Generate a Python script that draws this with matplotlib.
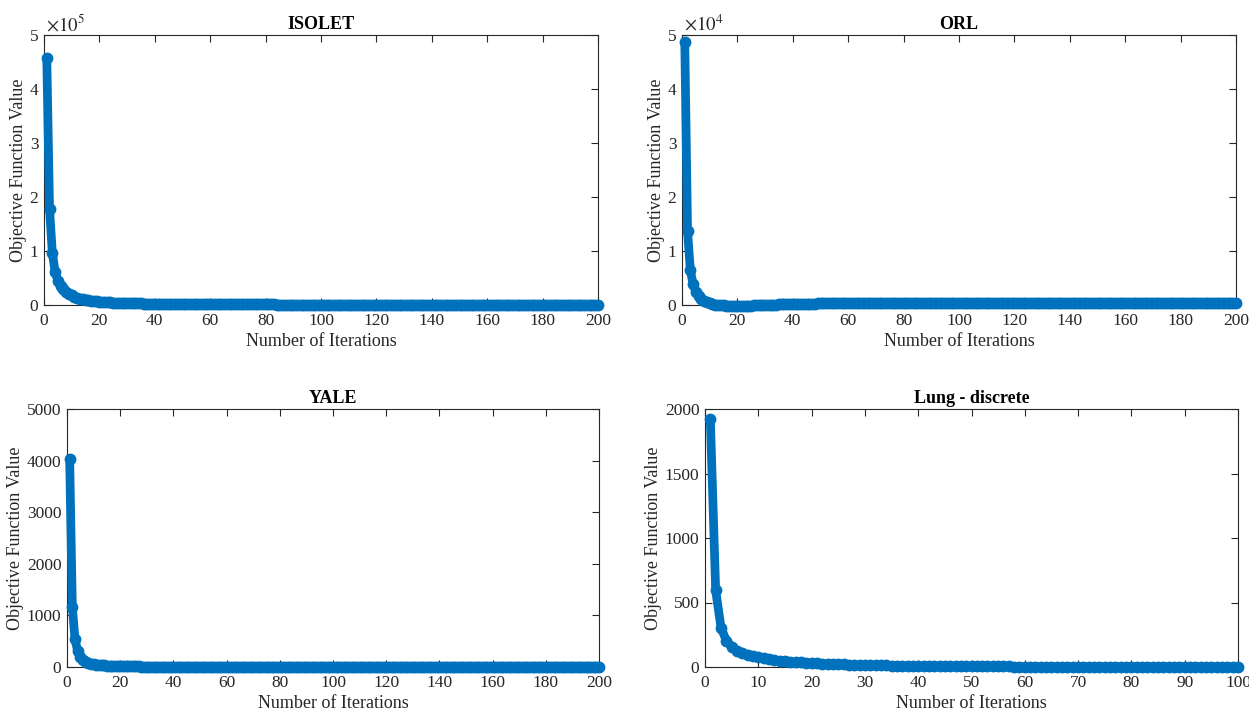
import matplotlib
matplotlib.use("Agg")
import matplotlib.pyplot as plt
import numpy as np

plt.rcParams['font.family'] = ['Liberation Serif', 'DejaVu Serif']
plt.rcParams['mathtext.fontset'] = 'stix'

# ---------------- data ----------------
isolet_vals = [
    458000, 178000, 97000, 62000, 45000, 36000, 29500, 24500, 20800, 17800,
    15400, 13500, 12000, 10700, 9700, 8800, 8050, 7400, 6850, 6350,
    5900, 5500, 5150, 4850, 4550, 4300, 4080, 3870, 3680, 3500,
    3340, 3190, 3050, 2920, 2800, 2690, 2590, 2490, 2400, 2320,
    2240, 2170, 2100, 2030, 1970, 1910, 1860, 1810, 1760, 1710,
    1670, 1630, 1590, 1550, 1510, 1480, 1450, 1420, 1390, 1360,
    1330, 1300, 1280, 1250, 1230, 1210, 1190, 1170, 1150, 1130,
    1110, 1090, 1080, 1060, 1040, 1030, 1010, 1000, 990, 970,
    960, 950, 940, 920, 910, 900, 890, 880, 870, 860,
    850, 840, 830, 825, 815, 805, 800, 790, 780, 775,
    768, 761, 755, 749, 743, 737, 731, 725, 720, 714,
    709, 703, 698, 693, 688, 683, 678, 673, 668, 664,
    659, 655, 650, 646, 642, 638, 633, 629, 625, 621,
    618, 614, 610, 606, 603, 599, 596, 592, 589, 586,
    582, 579, 576, 573, 570, 567, 564, 561, 558, 555,
    552, 550, 547, 544, 542, 539, 537, 534, 532, 529,
    527, 525, 522, 520, 518, 516, 513, 511, 509, 507,
    505, 503, 501, 499, 497, 495, 493, 491, 490, 488,
    486, 484, 483, 481, 479, 478, 476, 474, 473, 471,
    470, 468, 467, 465, 464, 462, 461, 459, 458, 457,
]

orl_vals = [
    48700, 13700, 6500, 3800, 2500, 1700, 1150, 780, 520, 330,
    190, 90, 20, -40, -90, -130, -160, -180, -190, -190,
    -180, -165, -145, -125, -105, -85, -65, -45, -25, -5,
    15, 35, 55, 75, 95, 115, 135, 150, 165, 180,
    195, 210, 222, 234, 245, 255, 265, 273, 281, 288,
    295, 300, 305, 310, 314, 318, 321, 324, 327, 329,
    331, 333, 335, 336, 337, 338, 339, 340, 341, 342,
    343, 343, 344, 344, 345, 345, 346, 346, 346, 347,
    347, 347, 348, 348, 348, 348, 349, 349, 349, 349,
    349, 350, 350, 350, 350, 350, 350, 350, 350, 350,
    351, 351, 351, 351, 351, 351, 351, 351, 351, 351,
    351, 351, 351, 352, 352, 352, 352, 352, 352, 352,
    352, 352, 352, 352, 352, 352, 352, 352, 352, 352,
    352, 352, 352, 352, 352, 352, 352, 352, 352, 352,
    352, 352, 352, 352, 352, 352, 352, 352, 352, 352,
    352, 352, 352, 352, 352, 352, 352, 352, 352, 352,
    352, 352, 352, 352, 352, 352, 352, 352, 352, 352,
    352, 352, 352, 352, 352, 352, 352, 352, 352, 352,
    352, 352, 352, 352, 352, 352, 352, 352, 352, 352,
    352, 352, 352, 352, 352, 352, 352, 352, 352, 352,
]

yale_vals = [
    4030, 1170, 540, 310, 200, 140, 105, 82, 66, 55,
    47, 40, 35, 31, 27, 24, 22, 20, 18, 16.5,
    15.2, 14.0, 13.0, 12.1, 11.3, 10.6, 10.0, 9.4, 8.9, 8.4,
    8.0, 7.6, 7.2, 6.9, 6.6, 6.3, 6.0, 5.8, 5.6, 5.4,
    5.2, 5.0, 4.9, 4.7, 4.6, 4.4, 4.3, 4.2, 4.1, 4.0,
    3.9, 3.8, 3.7, 3.6, 3.6, 3.5, 3.4, 3.4, 3.3, 3.3,
    3.2, 3.2, 3.1, 3.1, 3.0, 3.0, 3.0, 2.9, 2.9, 2.9,
    2.8, 2.8, 2.8, 2.8, 2.7, 2.7, 2.7, 2.7, 2.7, 2.6,
    2.6, 2.6, 2.6, 2.6, 2.6, 2.5, 2.5, 2.5, 2.5, 2.5,
    2.5, 2.5, 2.5, 2.4, 2.4, 2.4, 2.4, 2.4, 2.4, 2.4,
    2.4, 2.4, 2.4, 2.4, 2.3, 2.3, 2.3, 2.3, 2.3, 2.3,
    2.3, 2.3, 2.3, 2.3, 2.3, 2.3, 2.3, 2.3, 2.3, 2.3,
    2.2, 2.2, 2.2, 2.2, 2.2, 2.2, 2.2, 2.2, 2.2, 2.2,
    2.2, 2.2, 2.2, 2.2, 2.2, 2.2, 2.2, 2.2, 2.2, 2.2,
    2.2, 2.2, 2.2, 2.2, 2.2, 2.1, 2.1, 2.1, 2.1, 2.1,
    2.1, 2.1, 2.1, 2.1, 2.1, 2.1, 2.1, 2.1, 2.1, 2.1,
    2.1, 2.1, 2.1, 2.1, 2.1, 2.1, 2.1, 2.1, 2.1, 2.1,
    2.1, 2.1, 2.1, 2.1, 2.1, 2.1, 2.1, 2.1, 2.1, 2.1,
    2.1, 2.1, 2.1, 2.1, 2.1, 2.1, 2.1, 2.1, 2.1, 2.1,
    2.1, 2.1, 2.1, 2.1, 2.1, 2.1, 2.1, 2.1, 2.1, 2.1,
]

lung_vals = [
    1920, 595, 305, 205, 155, 127, 108, 94, 83, 74,
    66, 60, 54, 49, 45, 41, 38, 35, 32, 30,
    28, 26, 24, 22.5, 21, 19.5, 18, 17, 16, 15,
    14, 13.2, 12.4, 11.7, 11, 10.4, 9.8, 9.2, 8.7, 8.2,
    7.8, 7.4, 7.0, 6.7, 6.4, 6.1, 5.8, 5.5, 5.3, 5.1,
    4.9, 4.7, 4.5, 4.4, 4.2, 4.1, 3.9, 3.8, 3.7, 3.6,
    3.5, 3.4, 3.3, 3.2, 3.1, 3.0, 3.0, 2.9, 2.8, 2.8,
    2.7, 2.7, 2.6, 2.6, 2.5, 2.5, 2.4, 2.4, 2.4, 2.3,
    2.3, 2.3, 2.2, 2.2, 2.2, 2.1, 2.1, 2.1, 2.1, 2.0,
    2.0, 2.0, 2.0, 2.0, 1.9, 1.9, 1.9, 1.9, 1.9, 1.9,
]

titles = ["ISOLET", "ORL", "YALE", "Lung - discrete"]
x_ticks_200 = [0, 20, 40, 60, 80, 100, 120, 140, 160, 180, 200]
x_ticks_100 = [0, 10, 20, 30, 40, 50, 60, 70, 80, 90, 100]
isolet_yticks = [0, 1e5, 2e5, 3e5, 4e5, 5e5]
isolet_ylabels = ["0", "1", "2", "3", "4", "5"]
orl_yticks = [0, 1e4, 2e4, 3e4, 4e4, 5e4]
orl_ylabels = ["0", "1", "2", "3", "4", "5"]
yale_yticks = [0, 1000, 2000, 3000, 4000, 5000]
lung_yticks = [0, 500, 1000, 1500, 2000]

# ---------------- figure ----------------
W, H = 1249, 711
fig = plt.figure(figsize=(W / 100, H / 100), dpi=100)

def px_axes(l, t, r, b):
    return fig.add_axes([l / W, (H - b) / H, (r - l) / W, (b - t) / H])

AX_COL = '#262626'
LINE_COL = '#0072BD'

def style(ax, title, xticks, yticks, ylabels, xlim, ylim, exponent=None):
    ax.set_xlim(*xlim)
    ax.set_ylim(*ylim)
    ax.set_xticks(xticks)
    ax.set_yticks(yticks)
    if ylabels is not None:
        ax.set_yticklabels(ylabels)
    ax.tick_params(direction='in', top=True, right=True, length=5, width=0.8,
                   colors=AX_COL, labelsize=12.5)
    ax.tick_params(axis='x', pad=6)
    ax.tick_params(axis='y', pad=4)
    for s in ax.spines.values():
        s.set_color(AX_COL)
        s.set_linewidth(0.8)
    ax.set_title(title, fontsize=13, fontweight='bold', color='black', pad=4)
    ax.set_xlabel("Number of Iterations", fontsize=13, color=AX_COL, labelpad=3)
    ax.set_ylabel("Objective Function Value", fontsize=13, color=AX_COL, labelpad=2)
    if exponent is not None:
        ax.text(0.003, 1.002, r'$\times10^{%d}$' % exponent, transform=ax.transAxes,
                ha='left', va='bottom', fontsize=13.5, color=AX_COL)

def draw(ax, vals):
    it = np.arange(1, len(vals) + 1)
    ax.plot(it, vals, color=LINE_COL, lw=6.3, marker='o', ms=6, mew=2.5,
            mfc='none', mec=LINE_COL, clip_on=False, solid_capstyle='round',
            solid_joinstyle='round', zorder=3)

ax1 = px_axes(44, 35, 598, 305)
draw(ax1, isolet_vals)
style(ax1, titles[0], x_ticks_200, isolet_yticks, isolet_ylabels, (0, 200), (0, 5e5), exponent=5)

ax2 = px_axes(682, 35, 1236, 305)
draw(ax2, orl_vals)
style(ax2, titles[1], x_ticks_200, orl_yticks, orl_ylabels, (0, 200), (0, 5e4), exponent=4)

ax3 = px_axes(67, 409, 599, 667)
draw(ax3, yale_vals)
style(ax3, titles[2], x_ticks_200, yale_yticks, None, (0, 200), (0, 5000))

ax4 = px_axes(705, 409, 1238, 667)
draw(ax4, lung_vals)
style(ax4, titles[3], x_ticks_100, lung_yticks, None, (0, 100), (0, 2000))

fig.savefig("out.png", dpi=100, facecolor='white')
